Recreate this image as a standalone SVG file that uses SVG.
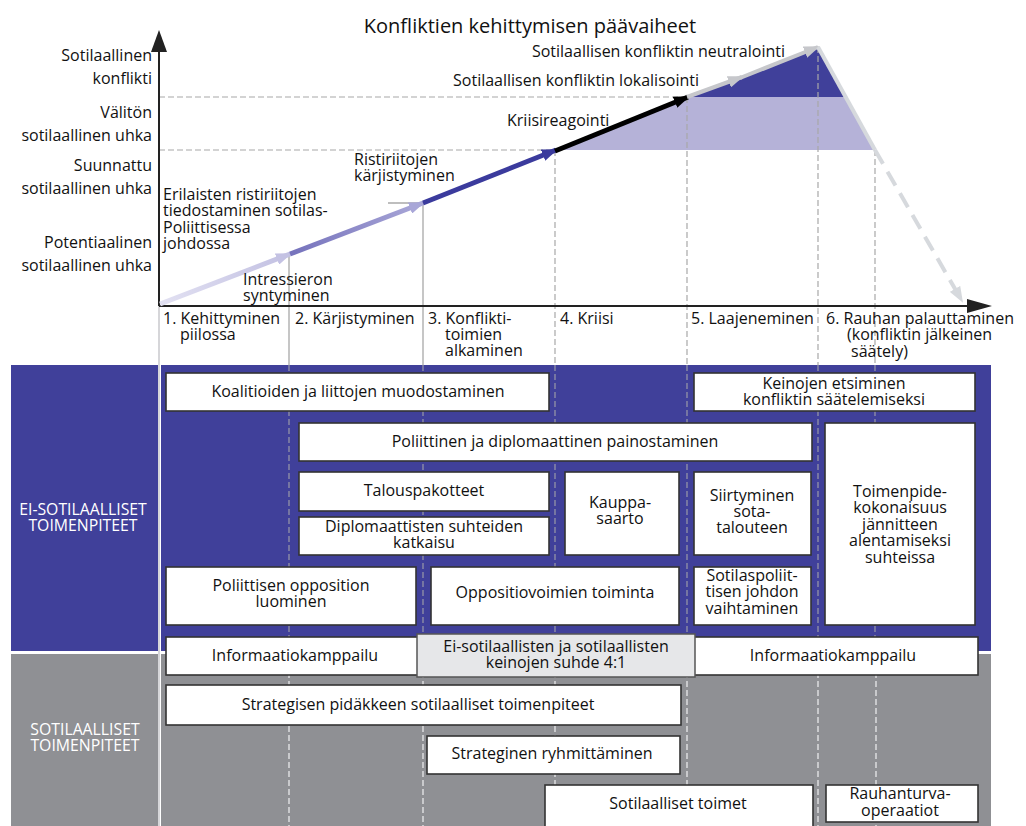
<svg xmlns="http://www.w3.org/2000/svg" width="1026" height="826" viewBox="0 0 1026 826">
<style>
text{font-family:"Open Sans","DejaVu Sans",sans-serif;fill:#111;font-size:16px}
.c{text-anchor:middle}
.r{text-anchor:end}
.box{fill:#fff;stroke:#333;stroke-width:1.6}
.wl{fill:#fff;font-size:15.8px}
.gd{stroke:#a8a8a8;stroke-width:1.2;stroke-dasharray:6 3;fill:none}
.bd{stroke:#9a9aa8;stroke-width:1.2;stroke-dasharray:6 3;fill:none}
.wd{stroke:#e8e8ea;stroke-width:1.3;stroke-dasharray:6 3;fill:none}
</style>
<defs>
<linearGradient id="g1" gradientUnits="userSpaceOnUse" x1="160" y1="304" x2="290" y2="254">
<stop offset="0" stop-color="#e2e1f2"/><stop offset="1" stop-color="#c2c0e2"/>
</linearGradient>
<linearGradient id="g2" gradientUnits="userSpaceOnUse" x1="290" y1="253" x2="423" y2="202">
<stop offset="0" stop-color="#7572bc"/><stop offset="1" stop-color="#aaa8d8"/>
</linearGradient>
<marker id="mL" markerUnits="userSpaceOnUse" markerWidth="16" markerHeight="12" refX="14" refY="6" orient="auto"><path d="M0,0 L16,6 L0,12 Z" fill="#c4c2e3"/></marker>
<marker id="m2" markerUnits="userSpaceOnUse" markerWidth="16" markerHeight="12" refX="14" refY="6" orient="auto"><path d="M0,0 L16,6 L0,12 Z" fill="#a9a7d8"/></marker>
<marker id="mB" markerUnits="userSpaceOnUse" markerWidth="16" markerHeight="12" refX="14" refY="6" orient="auto"><path d="M0,0 L16,6 L0,12 Z" fill="#3b3b9d"/></marker>
<marker id="mK" markerUnits="userSpaceOnUse" markerWidth="16" markerHeight="12" refX="14" refY="6" orient="auto"><path d="M0,0 L16,6 L0,12 Z" fill="#000"/></marker>
<marker id="mG" markerUnits="userSpaceOnUse" markerWidth="16" markerHeight="12" refX="14" refY="6" orient="auto"><path d="M0,0 L16,6 L0,12 Z" fill="#c6c7cb"/></marker>
<marker id="mD" markerUnits="userSpaceOnUse" markerWidth="16" markerHeight="12" refX="14" refY="6" orient="auto"><path d="M0,0 L16,6 L0,12 Z" fill="#d6d9dd"/></marker>
</defs>

<g id="background">
<rect x="11" y="365" width="147" height="286" fill="#40409a"/>
<rect x="161" y="365" width="830" height="286" fill="#40409a"/>
<rect x="11" y="654" width="147" height="172" fill="#8f9094"/>
<rect x="161" y="654" width="830" height="172" fill="#8f9094"/>
<polygon points="555,150 687,97 845,97 875,150" fill="#b5b2d8"/>
<polygon points="687,97 818,47 845,97" fill="#40409a"/>
</g>

<g id="grid">
<line x1="159" y1="97" x2="687" y2="97" class="gd"/>
<line x1="159" y1="150" x2="555" y2="150" class="gd"/>
<line x1="289" y1="255" x2="289" y2="365" stroke="#a8a8a8" stroke-width="1.3"/>
<line x1="388" y1="203" x2="423" y2="203" stroke="#a8a8a8" stroke-width="1.3"/>
<line x1="423" y1="203" x2="423" y2="365" stroke="#a8a8a8" stroke-width="1.3"/>
<line x1="555" y1="150" x2="555" y2="365" class="gd"/>
<line x1="687" y1="97" x2="687" y2="365" class="gd"/>
<line x1="818" y1="47" x2="818" y2="365" class="gd"/>
<line x1="875" y1="150" x2="875" y2="365" class="gd"/>
<g class="bd">
<line x1="289" y1="365" x2="289" y2="651"/><line x1="423" y1="365" x2="423" y2="651"/>
<line x1="555" y1="365" x2="555" y2="651"/><line x1="687" y1="365" x2="687" y2="651"/>
<line x1="818" y1="365" x2="818" y2="651"/><line x1="875" y1="365" x2="875" y2="651"/>
</g>
<g class="wd">
<line x1="289" y1="654" x2="289" y2="826"/><line x1="423" y1="654" x2="423" y2="826"/>
<line x1="555" y1="654" x2="555" y2="826"/><line x1="687" y1="654" x2="687" y2="826"/>
<line x1="818" y1="654" x2="818" y2="826"/><line x1="876" y1="654" x2="876" y2="826"/>
</g>
<line x1="159" y1="305" x2="159" y2="826" stroke="#c8c8cc" stroke-width="1.5"/>
</g>

<g id="connectors">
<line x1="159" y1="52" x2="159" y2="306" stroke="#222" stroke-width="2"/>
<polygon points="159,30 151,52 167,52" fill="#222"/>
<line x1="159" y1="306" x2="970" y2="306" stroke="#222" stroke-width="2"/>
<polygon points="992,306 967,299 967,313" fill="#222"/>
<line x1="160" y1="304" x2="290" y2="254" stroke="url(#g1)" stroke-width="5" marker-end="url(#mL)"/>
<line x1="290" y1="254" x2="423" y2="203" stroke="url(#g2)" stroke-width="5" marker-end="url(#m2)"/>
<line x1="423" y1="203" x2="556" y2="150" stroke="#3b3b9d" stroke-width="5" marker-end="url(#mB)"/>
<line x1="555" y1="151" x2="688" y2="97" stroke="#000" stroke-width="5" marker-end="url(#mK)"/>
<line x1="687" y1="97" x2="742" y2="77" stroke="#c6c7cb" stroke-width="4" marker-end="url(#mG)"/>
<line x1="740" y1="78" x2="818" y2="47" stroke="#c6c7cb" stroke-width="4" marker-end="url(#mG)"/>
<line x1="818" y1="47" x2="875" y2="150" stroke="#d6d9dd" stroke-width="4"/>
<line x1="875" y1="150" x2="962" y2="301" stroke="#d6d9dd" stroke-width="4" stroke-dasharray="16 9" marker-end="url(#mD)"/>
</g>

<g id="chart-labels">
<text x="530" y="33" class="c" style="font-size:20px">Konfliktien kehittymisen päävaiheet</text>
<text x="152" y="61" class="r">Sotilaallinen<tspan x="152" dy="23">konflikti</tspan></text>
<text x="152" y="118" class="r">Välitön<tspan x="152" dy="23">sotilaallinen uhka</tspan></text>
<text x="152" y="171" class="r">Suunnattu<tspan x="152" dy="23">sotilaallinen uhka</tspan></text>
<text x="152" y="248" class="r">Potentiaalinen<tspan x="152" dy="23">sotilaallinen uhka</tspan></text>
<text x="163" y="200">Erilaisten ristiriitojen<tspan x="163" dy="16">tiedostaminen sotilas-</tspan><tspan x="163" dy="17">Poliittisessa</tspan><tspan x="163" dy="16">johdossa</tspan></text>
<text x="243" y="285">Intressieron<tspan x="243" dy="16">syntyminen</tspan></text>
<text x="354" y="165">Ristiriitojen<tspan x="354" dy="16">kärjistyminen</tspan></text>
<text x="507" y="126">Kriisireagointi</text>
<text x="699" y="86" class="r">Sotilaallisen konfliktin lokalisointi</text>
<text x="785" y="57" class="r">Sotilaallisen konfliktin neutralointi</text>
</g>

<g id="phases">
<text x="163" y="324">1. Kehittyminen<tspan x="180" dy="16">piilossa</tspan></text>
<text x="295" y="324">2. Kärjistyminen</text>
<text x="428" y="324">3. Konflikti-<tspan x="445" dy="16">toimien</tspan><tspan x="445" dy="16">alkaminen</tspan></text>
<text x="560" y="324">4. Kriisi</text>
<text x="691" y="324">5. Laajeneminen</text>
<text x="826" y="324">6. Rauhan palauttaminen<tspan x="847" dy="16">(konfliktin jälkeinen</tspan><tspan x="851" dy="17">säätely)</tspan></text>
</g>

<g id="band-labels">
<text x="83" y="515" class="c wl">EI-SOTILAALLISET<tspan x="83" dy="16">TOIMENPITEET</tspan></text>
<text x="85" y="735" class="c wl">SOTILAALLISET<tspan x="85" dy="16">TOIMENPITEET</tspan></text>
</g>

<g id="n-koalitiot"><rect x="166" y="373" width="383" height="38" class="box"/><text x="358" y="397" class="c">Koalitioiden ja liittojen muodostaminen</text></g>
<g id="n-keinojen"><rect x="694" y="373" width="281" height="38" class="box"/><text x="834" y="389" class="c">Keinojen etsiminen<tspan x="834" dy="16">konfliktin säätelemiseksi</tspan></text></g>
<g id="n-poliittinen"><rect x="299" y="423" width="513" height="38" class="box"/><text x="555" y="447" class="c">Poliittinen ja diplomaattinen painostaminen</text></g>
<g id="n-talous"><rect x="299" y="472" width="250" height="39" class="box"/><text x="424" y="496" class="c">Talouspakotteet</text></g>
<g id="n-diplo"><rect x="299" y="517" width="250" height="38" class="box"/><text x="424" y="532" class="c">Diplomaattisten suhteiden<tspan x="424" dy="16">katkaisu</tspan></text></g>
<g id="n-kauppa"><rect x="565" y="472" width="114" height="83" class="box"/><text x="620" y="508" class="c">Kauppa-<tspan x="620" dy="16">saarto</tspan></text></g>
<g id="n-siirtyminen"><rect x="694" y="472" width="117" height="83" class="box"/><text x="752" y="501" class="c">Siirtyminen<tspan x="752" dy="16">sota-</tspan><tspan x="752" dy="16">talouteen</tspan></text></g>
<g id="n-toimenpide"><rect x="825" y="423" width="150" height="202" class="box"/><text x="900" y="497" class="c">Toimenpide-<tspan x="900" dy="16">kokonaisuus</tspan><tspan x="900" dy="17">jännitteen</tspan><tspan x="900" dy="16">alentamiseksi</tspan><tspan x="900" dy="17">suhteissa</tspan></text></g>
<g id="n-oppositio"><rect x="166" y="567" width="250" height="58" class="box"/><text x="291" y="591" class="c">Poliittisen opposition<tspan x="291" dy="16">luominen</tspan></text></g>
<g id="n-oppositiovoimat"><rect x="431" y="567" width="248" height="58" class="box"/><text x="555" y="598" class="c">Oppositiovoimien toiminta</text></g>
<g id="n-sotilaspoliit"><rect x="694" y="567" width="117" height="58" class="box"/><text x="752" y="581" class="c">Sotilaspoliit-<tspan x="752" dy="16">tisen johdon</tspan><tspan x="752" dy="17">vaihtaminen</tspan></text></g>
<g id="n-info1"><rect x="166" y="637" width="254" height="38" class="box"/><text x="295" y="661" class="c">Informaatiokamppailu</text></g>
<g id="n-info2"><rect x="694" y="637" width="284" height="38" class="box"/><text x="833" y="661" class="c">Informaatiokamppailu</text></g>
<g id="n-suhde"><rect x="417" y="634" width="278" height="43" fill="#e6e7e9" stroke="#555" stroke-width="1.5"/><text x="556" y="652" class="c">Ei-sotilaallisten ja sotilaallisten<tspan x="556" dy="16">keinojen suhde 4:1</tspan></text></g>
<g id="n-pidake"><rect x="166" y="685" width="515" height="40" class="box"/><text x="418" y="710" class="c">Strategisen pidäkkeen sotilaalliset toimenpiteet</text></g>
<g id="n-ryhmitys"><rect x="427" y="736" width="253" height="38" class="box"/><text x="552" y="759" class="c">Strateginen ryhmittäminen</text></g>
<g id="n-toimet"><rect x="545" y="785" width="268" height="45" class="box"/><text x="678" y="809" class="c">Sotilaalliset toimet</text></g>
<g id="n-rauhanturva"><rect x="826" y="785" width="152" height="37" class="box"/><text x="900" y="799" class="c">Rauhanturva-<tspan x="900" dy="17">operaatiot</tspan></text></g>
</svg>
